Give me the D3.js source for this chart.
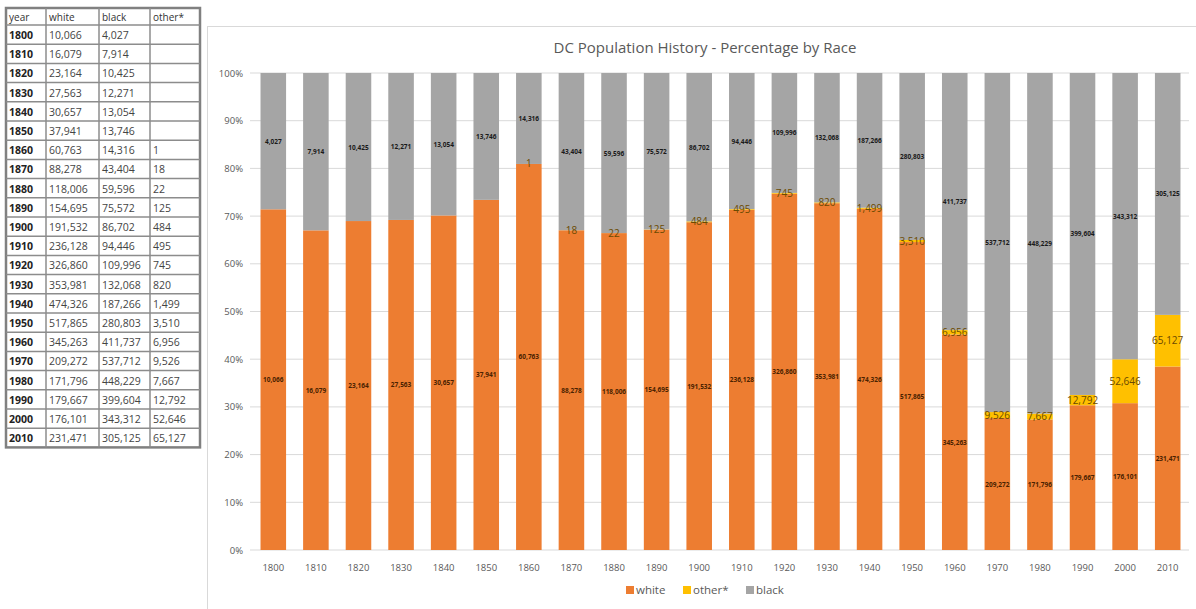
<!DOCTYPE html>
<html><head><meta charset="utf-8">
<script src="https://cdn.jsdelivr.net/npm/d3@7"></script>
<style>body{margin:0;background:#fff;}svg{display:block;font-family:"Open Sans","Noto Sans",sans-serif;}</style>
</head><body>
<svg id="c" width="1196" height="609"></svg>
<script>
const years = ["1800","1810","1820","1830","1840","1850","1860","1870","1880","1890","1900","1910","1920","1930","1940","1950","1960","1970","1980","1990","2000","2010"];
const white = [10066,16079,23164,27563,30657,37941,60763,88278,118006,154695,191532,236128,326860,353981,474326,517865,345263,209272,171796,179667,176101,231471];
const black = [4027,7914,10425,12271,13054,13746,14316,43404,59596,75572,86702,94446,109996,132068,187266,280803,411737,537712,448229,399604,343312,305125];
const other = [null,null,null,null,null,null,1,18,22,125,484,495,745,820,1499,3510,6956,9526,7667,12792,52646,65127];
const seriesKeys = ["white","other","black"];
const seriesLabels = ["white","other*","black"];
const colors = ["#ED7D31","#FFC000","#A5A5A5"];
const yTicks = [0,0.1,0.2,0.3,0.4,0.5,0.6,0.7,0.8,0.9,1];
const tableHeader = ["year","white","black","other*"];

const svg = d3.select("#c");
const fmt = d3.format(",");

// ---- table ----
const colX = [6,46,99,150,200];
const tTop = 8, headH = 17, rowH = 19.2;
const tg = svg.append("g");
const nRows = years.length;
const tBottom = tTop + headH + nRows*rowH;
tg.append("rect").attr("x",colX[0]).attr("y",tTop).attr("width",colX[4]-colX[0]).attr("height",tBottom-tTop)
  .attr("fill","#fff").attr("stroke","#808080").attr("stroke-width",2.5);
for(let i=1;i<4;i++) tg.append("line").attr("x1",colX[i]).attr("x2",colX[i]).attr("y1",tTop).attr("y2",tBottom).attr("stroke","#8c8c8c").attr("stroke-width",1.5);
for(let r=0;r<nRows;r++){
  const y = tTop+headH+r*rowH;
  tg.append("line").attr("x1",colX[0]).attr("x2",colX[4]).attr("y1",y).attr("y2",y).attr("stroke","#8c8c8c").attr("stroke-width",1.5);
}
tableHeader.forEach((h,i)=>tg.append("text").attr("x",colX[i]+3).attr("y",tTop+12.5).attr("font-size",10).attr("fill","#333").text(h));
years.forEach((yr,r)=>{
  const y = tTop+headH+r*rowH+14;
  tg.append("text").attr("x",colX[0]+3).attr("y",y).attr("font-size",10.5).attr("font-weight","bold").attr("fill","#222").text(yr);
  tg.append("text").attr("x",colX[1]+3).attr("y",y).attr("font-size",10.5).attr("fill","#444").text(fmt(white[r]));
  tg.append("text").attr("x",colX[2]+3).attr("y",y).attr("font-size",10.5).attr("fill","#444").text(fmt(black[r]));
  if(other[r]!=null) tg.append("text").attr("x",colX[3]+3).attr("y",y).attr("font-size",10.5).attr("fill","#444").text(fmt(other[r]));
});

// ---- chart ----
svg.append("rect").attr("x",207.5).attr("y",26.5).attr("width",990).attr("height",600).attr("fill","#fff").attr("stroke","#d9d9d9");
svg.append("text").attr("x",705).attr("y",53).attr("text-anchor","middle").attr("font-size",15).attr("fill","#595959")
  .text("DC Population History - Percentage by Race");

const x = d3.scaleBand().domain(years).range([252,1189]).paddingInner(0.4).paddingOuter(0.2);
const y = d3.scaleLinear().domain([0,1]).range([550,73]);

// grid
svg.append("g").selectAll("line").data(yTicks).join("line")
  .attr("x1",250).attr("x2",1189).attr("y1",d=>y(d)).attr("y2",d=>y(d)).attr("stroke","#d9d9d9").attr("stroke-width",1);
svg.append("g").selectAll("text").data(yTicks).join("text")
  .attr("x",243).attr("y",d=>y(d)+3.5).attr("text-anchor","end").attr("font-size",9.5).attr("fill","#595959")
  .text(d=>d3.format(".0%")(d));

const rows = years.map((yr,i)=>{
  const t = white[i]+black[i]+(other[i]||0);
  return {year:yr, white:white[i]/t, other:(other[i]||0)/t, black:black[i]/t, raw:{white:white[i],other:other[i],black:black[i]}};
});
const stack = d3.stack().keys(seriesKeys)(rows);

const gBars = svg.append("g");
stack.forEach((s,si)=>{
  gBars.append("g").attr("fill",colors[si]).selectAll("rect").data(s).join("rect")
    .attr("x",d=>x(d.data.year)).attr("width",x.bandwidth())
    .attr("y",d=>y(d[1])).attr("height",d=>Math.max(0,y(d[0])-y(d[1])));
});
// labels
stack.forEach((s,si)=>{
  const key = seriesKeys[si];
  gBars.append("g").selectAll("text").data(s.filter(d=>d.data.raw[key]!=null)).join("text")
    .attr("x",d=>x(d.data.year)+x.bandwidth()/2)
    .attr("y",d=>y((d[0]+d[1])/2)+ (key==="other"?3.5:2.5))
    .attr("text-anchor","middle")
    .attr("font-size",key==="other"?10:6.5)
    .attr("font-weight",key==="other"?"normal":"bold")
    .attr("fill",key==="black"?"#1a1a1a":(key==="white"?"#4a2200":"#6b4a00"))
    .text(d=>fmt(d.data.raw[key]));
});

// x axis labels
svg.append("g").selectAll("text").data(years).join("text")
  .attr("x",d=>x(d)+x.bandwidth()/2).attr("y",571).attr("text-anchor","middle").attr("font-size",9.5).attr("fill","#595959").text(d=>d);

// legend
const legX = [626,683,746];
const lg = svg.append("g");
seriesLabels.forEach((l,i)=>{
  lg.append("rect").attr("x",legX[i]).attr("y",586).attr("width",8).attr("height",8).attr("fill",colors[i]);
  lg.append("text").attr("x",legX[i]+10).attr("y",594).attr("font-size",11.5).attr("fill","#595959").text(l);
});
</script>
</body></html>
